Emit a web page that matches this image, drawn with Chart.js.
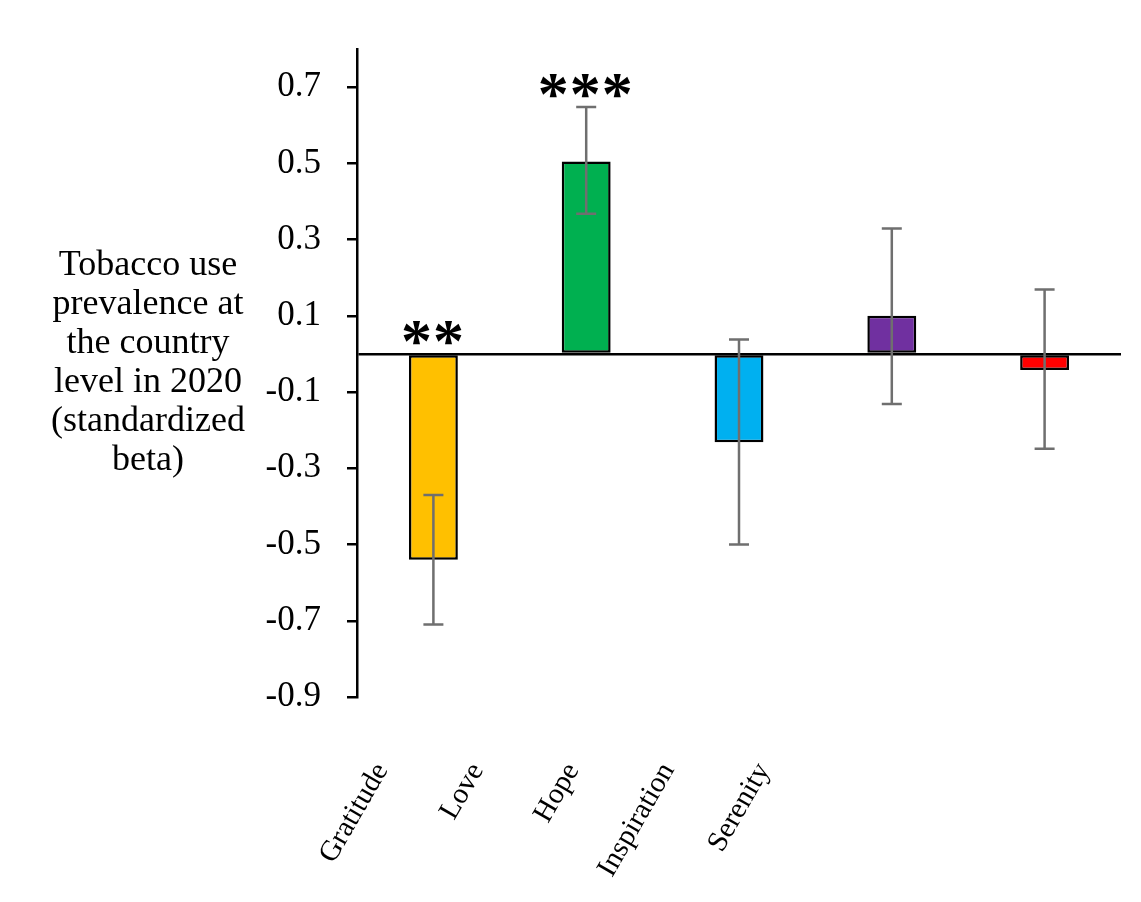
<!DOCTYPE html>
<html>
<head>
<meta charset="utf-8">
<script src="https://cdn.jsdelivr.net/npm/chart.js@4.4.1/dist/chart.umd.min.js"></script>
<style>
  html, body { margin: 0; padding: 0; background: #fff; }
  #wrap { width: 1141px; height: 902px; position: relative; }
</style>
</head>
<body>
<div id="wrap"><canvas id="c" width="1141" height="902"></canvas></div>
<script>
const categories = ['Gratitude', 'Love', 'Hope', 'Inspiration', 'Serenity'];
const betas = [-0.54, 0.505, -0.232, 0.10, -0.042];
const ciLower = [-0.71, 0.368, -0.50, -0.131, -0.249];
const ciUpper = [-0.37, 0.648, 0.038, 0.329, 0.169];
const significance = ['**', '***', '', '', ''];
const barColors = ['#FFC000', '#00B050', '#00B0F0', '#7030A0', '#FF0000'];
const yTickValues = [-0.9, -0.7, -0.5, -0.3, -0.1, 0.1, 0.3, 0.5, 0.7];
const yMin = -0.9, yMax = 0.8;
const yTitleLines = ['Tobacco use', 'prevalence at', 'the country', 'level in 2020', '(standardized', 'beta)'];
const labelAxisCategories = categories.concat(['', '', '']);

const SERIF = '"Liberation Serif", "Times New Roman", serif';

const annotatePlugin = {
  id: 'annotate',
  afterDatasetsDraw(chart) {
    const ctx = chart.ctx;
    const y = chart.scales.y;
    const meta = chart.getDatasetMeta(0);
    ctx.save();
    // error bars
    ctx.strokeStyle = '#6f6f6f';
    ctx.lineWidth = 2.5;
    meta.data.forEach((bar, i) => {
      const x = bar.x;
      const y1 = y.getPixelForValue(ciLower[i]);
      const y2 = y.getPixelForValue(ciUpper[i]);
      ctx.beginPath();
      ctx.moveTo(x, y1); ctx.lineTo(x, y2);
      ctx.moveTo(x - 10, y1); ctx.lineTo(x + 10, y1);
      ctx.moveTo(x - 10, y2); ctx.lineTo(x + 10, y2);
      ctx.stroke();
    });
    // significance stars
    ctx.font = 'bold 100px ' + SERIF;
    const m = ctx.measureText('*');
    const w100 = m.actualBoundingBoxLeft + m.actualBoundingBoxRight;
    const size = 100 * 26 / w100;
    ctx.font = 'bold ' + size + 'px ' + SERIF;
    const mm = ctx.measureText('*');
    const gw = mm.actualBoundingBoxLeft + mm.actualBoundingBoxRight;
    ctx.fillStyle = '#000';
    ctx.textAlign = 'left';
    ctx.textBaseline = 'alphabetic';
    meta.data.forEach((bar, i) => {
      const s = significance[i];
      if (!s) return;
      const top = y.getPixelForValue(Math.max(0, ciUpper[i], betas[i]));
      const bottom = top - 9;
      const n = s.length;
      const spacing = 32;
      for (let k = 0; k < n; k++) {
        const cx = bar.x - 1 + (k - (n - 1) / 2) * spacing;
        const left = cx - gw / 2;
        ctx.fillText('*', left + mm.actualBoundingBoxLeft, bottom - mm.actualBoundingBoxDescent);
      }
    });
    ctx.restore();
  },
  afterDraw(chart) {
    const ctx = chart.ctx;
    ctx.save();
    ctx.font = '36px ' + SERIF;
    ctx.fillStyle = '#000';
    ctx.textAlign = 'center';
    ctx.textBaseline = 'alphabetic';
    yTitleLines.forEach((t, i) => ctx.fillText(t, 148, 275 + 39 * i));
    ctx.restore();
  }
};

new Chart(document.getElementById('c'), {
  type: 'bar',
  data: {
    labels: categories,
    datasets: [{
      data: betas,
      backgroundColor: barColors,
      borderColor: '#000',
      borderWidth: 2.5,
      borderSkipped: false,
      barPercentage: 0.32,
      categoryPercentage: 1,
      xAxisID: 'x',
      yAxisID: 'y'
    }]
  },
  options: {
    responsive: false,
    animation: false,
    devicePixelRatio: 1,
    layout: { padding: { top: 49, right: 20, left: 0, bottom: 0 } },
    plugins: { legend: { display: false }, tooltip: { enabled: false } },
    scales: {
      x: { type: 'category', display: false, offset: true },
      xl: {
        type: 'category',
        position: 'bottom',
        labels: labelAxisCategories,
        offset: true,
        grid: { display: false, drawTicks: false },
        border: { display: false },
        ticks: {
          autoSkip: false, maxRotation: 60, minRotation: 60,
          labelOffset: -23, padding: 60,
          font: { family: SERIF, size: 29 }, color: '#000'
        },
        afterFit(s) { s.height = 205; s.paddingLeft = 0; s.paddingRight = 0; }
      },
      y: {
        min: yMin, max: yMax,
        afterBuildTicks(s) {
          s.ticks = yTickValues.concat([0]).sort((a, b) => a - b).map(v => ({ value: v }));
        },
        afterFit(s) { s.width = 357; s.paddingTop = 0; s.paddingBottom = 0; },
        border: { display: true, color: '#000', width: 2.5 },
        grid: {
          drawOnChartArea: true,
          color: c => (c.tick && c.tick.value === 0) ? '#000' : 'rgba(0,0,0,0)',
          lineWidth: 2.5,
          tickColor: c => (c.tick && c.tick.value === 0) ? 'rgba(0,0,0,0)' : '#000',
          tickLength: 10,
          tickWidth: 2.5
        },
        ticks: {
          padding: 26,
          color: '#000',
          font: { family: SERIF, size: 35 },
          callback: v => (v === 0 ? '' : v.toFixed(1))
        }
      }
    }
  },
  plugins: [annotatePlugin]
});
</script>
</body>
</html>
